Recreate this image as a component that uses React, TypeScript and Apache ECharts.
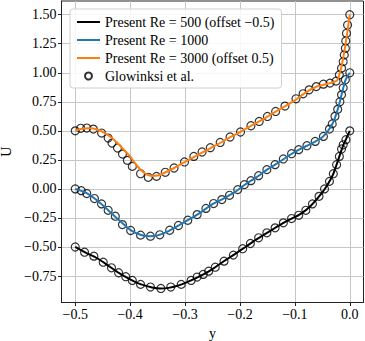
import React, { useEffect, useRef } from "react";
import * as echarts from "echarts";

// Present simulation curves: [y, U] (raw, before offset)
const OFFSET_500 = -0.5;
const OFFSET_1000 = 0;
const OFFSET_3000 = 0.5;

const re500Line: number[][] = [
  [-0.5, 0], [-0.48, -0.05], [-0.46, -0.097], [-0.44, -0.16], [-0.42, -0.225],
  [-0.4, -0.278], [-0.38, -0.322], [-0.36, -0.348], [-0.345, -0.357], [-0.33, -0.352],
  [-0.31, -0.328], [-0.29, -0.29], [-0.27, -0.245], [-0.25, -0.19], [-0.23, -0.125],
  [-0.21, -0.063], [-0.19, 0.0], [-0.17, 0.065], [-0.15, 0.124], [-0.13, 0.182],
  [-0.11, 0.235], [-0.09, 0.283], [-0.07, 0.36], [-0.05, 0.47], [-0.04, 0.54],
  [-0.03, 0.63], [-0.02, 0.765], [-0.012, 0.875], [-0.006, 0.937], [0, 1.0],
];

const re1000Line: number[][] = [
  [-0.5, 0], [-0.48, -0.035], [-0.46, -0.1], [-0.44, -0.183], [-0.42, -0.27],
  [-0.4, -0.352], [-0.38, -0.397], [-0.365, -0.407], [-0.35, -0.4], [-0.33, -0.363],
  [-0.31, -0.31], [-0.29, -0.255], [-0.27, -0.197], [-0.25, -0.131], [-0.23, -0.083],
  [-0.21, -0.03], [-0.19, 0.04], [-0.17, 0.1], [-0.15, 0.168], [-0.13, 0.227],
  [-0.11, 0.29], [-0.09, 0.345], [-0.07, 0.39], [-0.05, 0.445], [-0.04, 0.497],
  [-0.03, 0.575], [-0.02, 0.715], [-0.014, 0.83], [-0.008, 0.935], [0, 1.0],
];

const re3000Line: number[][] = [
  [-0.5, 0], [-0.49, 0.015], [-0.475, 0.022], [-0.46, 0.012], [-0.445, -0.022],
  [-0.43, -0.075], [-0.415, -0.145], [-0.4, -0.22], [-0.39, -0.285], [-0.38, -0.34],
  [-0.37, -0.375], [-0.36, -0.388], [-0.35, -0.385], [-0.34, -0.367], [-0.32, -0.32],
  [-0.3, -0.268], [-0.28, -0.215], [-0.26, -0.165], [-0.24, -0.115], [-0.22, -0.06],
  [-0.2, -0.01], [-0.18, 0.043], [-0.16, 0.094], [-0.14, 0.152], [-0.12, 0.206],
  [-0.1, 0.262], [-0.08, 0.332], [-0.06, 0.382], [-0.04, 0.405], [-0.03, 0.418],
  [-0.022, 0.44], [-0.018, 0.5], [-0.014, 0.58], [-0.01, 0.68], [-0.006, 0.8],
  [-0.003, 0.9], [0, 1.0],
];

// Glowinski et al. reference points: [y, U] (raw, before offset)
const glow500: number[][] = [
  [-0.5, 0], [-0.483, -0.045], [-0.466, -0.079], [-0.449, -0.131], [-0.434, -0.179],
  [-0.421, -0.222], [-0.408, -0.256], [-0.396, -0.288], [-0.381, -0.322], [-0.363, -0.345],
  [-0.344, -0.357], [-0.326, -0.345], [-0.307, -0.322], [-0.289, -0.288], [-0.278, -0.259],
  [-0.267, -0.236], [-0.257, -0.208], [-0.245, -0.174], [-0.229, -0.122], [-0.212, -0.07],
  [-0.195, -0.015], [-0.181, 0.03], [-0.166, 0.079], [-0.151, 0.122], [-0.136, 0.165],
  [-0.121, 0.208], [-0.106, 0.245], [-0.093, 0.273], [-0.08, 0.316], [-0.068, 0.371],
  [-0.056, 0.436], [-0.046, 0.5], [-0.037, 0.565], [-0.03, 0.631], [-0.024, 0.709],
  [-0.019, 0.78], [-0.015, 0.844], [-0.012, 0.88], [-0.007, 0.924], [0, 1.0],
];

const glow1000: number[][] = [
  [-0.5, 0], [-0.489, -0.015], [-0.479, -0.04], [-0.465, -0.083], [-0.452, -0.129],
  [-0.44, -0.184], [-0.427, -0.235], [-0.414, -0.307], [-0.399, -0.358], [-0.381, -0.398],
  [-0.363, -0.407], [-0.346, -0.395], [-0.328, -0.356], [-0.312, -0.315], [-0.295, -0.27],
  [-0.278, -0.221], [-0.262, -0.168], [-0.248, -0.126], [-0.233, -0.092], [-0.219, -0.055],
  [-0.204, -0.006], [-0.192, 0.037], [-0.18, 0.071], [-0.166, 0.114], [-0.151, 0.166],
  [-0.136, 0.209], [-0.121, 0.258], [-0.106, 0.303], [-0.093, 0.338], [-0.078, 0.372],
  [-0.063, 0.409], [-0.048, 0.452], [-0.037, 0.515], [-0.032, 0.56], [-0.027, 0.625],
  [-0.022, 0.685], [-0.018, 0.75], [-0.015, 0.81], [-0.012, 0.87], [-0.008, 0.94], [0, 1.0],
];

const glow3000: number[][] = [
  [-0.5, 0], [-0.49, 0.022], [-0.479, 0.024], [-0.467, 0.015], [-0.452, -0.019],
  [-0.44, -0.062], [-0.433, -0.105], [-0.423, -0.148], [-0.414, -0.2], [-0.405, -0.254],
  [-0.396, -0.306], [-0.381, -0.369], [-0.367, -0.4], [-0.352, -0.392], [-0.336, -0.357],
  [-0.32, -0.32], [-0.301, -0.268], [-0.284, -0.22], [-0.269, -0.182], [-0.254, -0.145],
  [-0.236, -0.1], [-0.218, -0.053], [-0.199, -0.01], [-0.18, 0.044], [-0.165, 0.081],
  [-0.15, 0.124], [-0.135, 0.167], [-0.118, 0.213], [-0.098, 0.276], [-0.085, 0.319],
  [-0.074, 0.353], [-0.061, 0.381], [-0.048, 0.402], [-0.036, 0.411], [-0.025, 0.428],
  [-0.019, 0.482], [-0.015, 0.54], [-0.012, 0.596], [-0.01, 0.654], [-0.008, 0.711],
  [-0.0073, 0.774], [-0.006, 0.84], [-0.004, 0.911], [0, 1.0],
];

const xTicks = [-0.5, -0.4, -0.3, -0.2, -0.1, 0.0];
const yTicks = [-0.75, -0.5, -0.25, 0.0, 0.25, 0.5, 0.75, 1.0, 1.25, 1.5];

const NAME_500 = "Present Re = 500 (offset \u22120.5)";
const NAME_1000 = "Present Re = 1000";
const NAME_3000 = "Present Re = 3000 (offset 0.5)";
const NAME_GLOW = "Glowinksi et al.";

const shift = (arr: number[][], off: number) => arr.map(([x, u]) => [x, u + off]);
const fmt = (v: number, d: number) => v.toFixed(d).replace("-", "\u2212");

const FONT = "'Liberation Serif', 'Times New Roman', serif";

export default function App() {
  const ref = useRef<HTMLDivElement>(null);
  useEffect(() => {
    if (!ref.current) return;
    const chart = echarts.init(ref.current, undefined, { renderer: "svg" });
    const axisCommon = {
      type: "value" as const,
      axisLine: { show: true, onZero: false, lineStyle: { color: "#222", width: 1 } },
      axisTick: { show: true, inside: false, length: 3.5, lineStyle: { color: "#222", width: 1 } },
      splitLine: { show: true, lineStyle: { color: "#c6c6c6", width: 1 } },
    };
    const hiddenSymbol = { opacity: 0, color: "rgba(0,0,0,0)", borderWidth: 0 };
    chart.setOption({
      animation: false,
      backgroundColor: "#fff",
      textStyle: { fontFamily: FONT },
      grid: {
        left: 61.5, right: 1.5, top: 1, bottom: 38.5,
        show: true, borderColor: "#222", borderWidth: 1, backgroundColor: "transparent",
        containLabel: false, outerBoundsMode: "none",
      },
      xAxis: {
        ...axisCommon,
        min: -0.525, max: 0.025,
        axisTick: { ...axisCommon.axisTick, customValues: xTicks },
        axisLabel: {
          customValues: xTicks, formatter: (v: number) => fmt(v, 1),
          fontFamily: FONT, fontSize: 14, color: "#000", margin: 5,
        },
        name: "y", nameLocation: "middle", nameGap: 12,
        nameTextStyle: { fontFamily: FONT, fontSize: 14, color: "#000" },
      },
      yAxis: {
        ...axisCommon,
        min: -0.978, max: 1.618,
        axisTick: { ...axisCommon.axisTick, customValues: yTicks },
        axisLabel: {
          customValues: yTicks, formatter: (v: number) => fmt(v, 2),
          fontFamily: FONT, fontSize: 14, color: "#000", margin: 5,
        },
        name: "U", nameLocation: "middle", nameGap: 37,
        nameTextStyle: { fontFamily: FONT, fontSize: 14, color: "#000" },
      },
      legend: {
        show: true, orient: "vertical", left: 70, top: 9,
        itemWidth: 23, itemHeight: 7, itemGap: 4,
        padding: [6, 7, 5, 6],
        backgroundColor: "rgba(255,255,255,0.85)",
        borderColor: "#d0d0d0", borderWidth: 1, borderRadius: 3,
        textStyle: { fontFamily: FONT, fontSize: 14, color: "#000" },
        data: [
          { name: NAME_500, itemStyle: hiddenSymbol },
          { name: NAME_1000, itemStyle: hiddenSymbol },
          { name: NAME_3000, itemStyle: hiddenSymbol },
          { name: NAME_GLOW },
        ],
      },
      series: [
        {
          name: NAME_500, type: "line", data: shift(re500Line, OFFSET_500),
          symbol: "none", smooth: 0.2, lineStyle: { color: "#000", width: 2 }, itemStyle: { color: "#000" },
        },
        {
          name: NAME_1000, type: "line", data: shift(re1000Line, OFFSET_1000),
          symbol: "none", smooth: 0.2, lineStyle: { color: "#1f77b4", width: 2 }, itemStyle: { color: "#1f77b4" },
        },
        {
          name: NAME_3000, type: "line", data: shift(re3000Line, OFFSET_3000),
          symbol: "none", smooth: 0.2, lineStyle: { color: "#ff7f0e", width: 2 }, itemStyle: { color: "#ff7f0e" },
        },
        {
          name: NAME_GLOW, type: "scatter",
          data: [
            ...shift(glow500, OFFSET_500),
            ...shift(glow1000, OFFSET_1000),
            ...shift(glow3000, OFFSET_3000),
          ],
          symbol: "circle", symbolSize: 8,
          itemStyle: { color: "rgba(0,0,0,0)", borderColor: "#000", borderWidth: 1.2 },
        },
      ],
    });
    return () => chart.dispose();
  }, []);
  return (
    <div
      ref={ref}
      style={{ position: "fixed", left: 0, top: 0, width: 365, height: 341, background: "#fff" }}
    />
  );
}
